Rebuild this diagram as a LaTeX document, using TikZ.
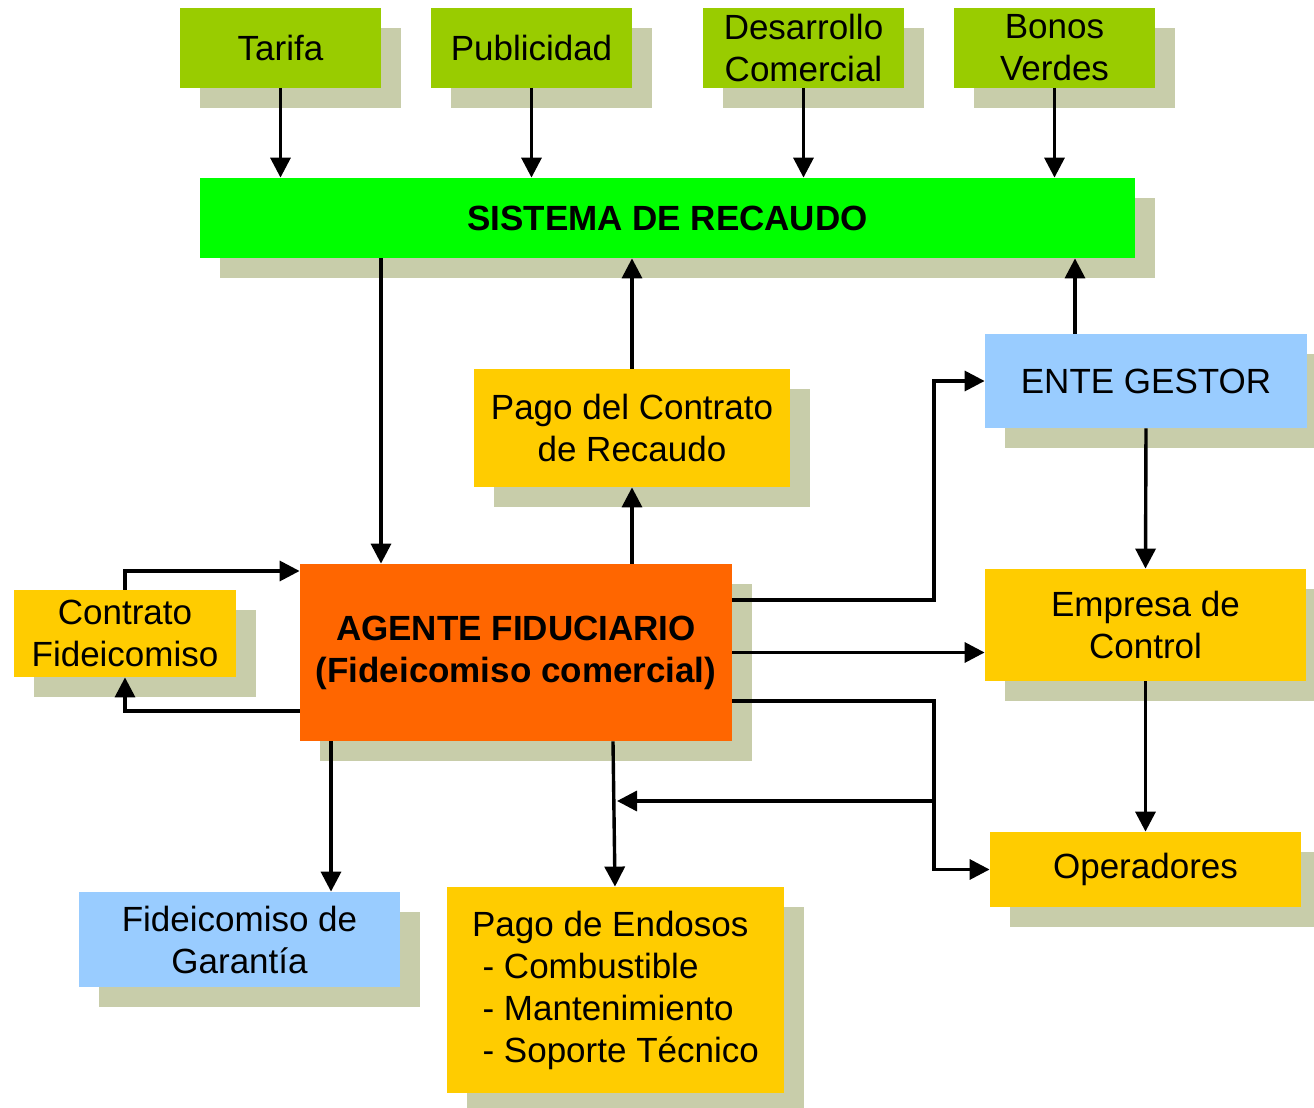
\documentclass[tikz,border=0pt]{standalone}
\usepackage{fontspec}
\setmainfont{Liberation Sans}
\usetikzlibrary{arrows.meta,shadows}
\definecolor{verdeclaro}{HTML}{99CC00}
\definecolor{verderecaudo}{HTML}{00FF00}
\definecolor{azulclaro}{HTML}{99CCFF}
\definecolor{amarillo}{HTML}{FFCC00}
\definecolor{naranja}{HTML}{FF6600}
\definecolor{sombra}{HTML}{C8CDAA}
\tikzset{
	caja/.style={fill=#1, align=center, inner sep=0pt, font=\fontsize{17.5}{21}\selectfont,
		drop shadow={shadow xshift=10pt, shadow yshift=-10pt, fill=sombra, opacity=1}},
	flecha/.style={line width=1.7pt, -{Triangle[length=10pt,width=10pt]}},
	linea/.style={line width=1.7pt}
}

\begin{document}
\begin{tikzpicture}[x=0.5pt, y=-0.5pt]
			%%%%% START %%%%%
			\useasboundingbox (0, 0) rectangle (1314, 1108);
			
			\node[caja=verdeclaro, minimum width=100.5pt, minimum height=40pt] (tarifa) at (280.5, 47.5) {Tarifa};
			\node[caja=verdeclaro, minimum width=100.5pt, minimum height=40pt] (publicidad) at (531.5, 47.5) {Publicidad};
			\node[caja=verdeclaro, minimum width=100.5pt, minimum height=40pt] (desarrollo) at (803.5, 47.5) {Desarrollo\\Comercial};
			\node[caja=verdeclaro, minimum width=100.5pt, minimum height=40pt] (bonos) at (1054.5, 47.5) {Bonos\\Verdes};
			
			\node[caja=verderecaudo, minimum width=467.5pt, minimum height=40pt] (sistema) at (667.5, 218) {\bfseries SISTEMA DE RECAUDO};
			
			\node[caja=amarillo, minimum width=158pt, minimum height=59pt] (pago) at (632, 428) {Pago del Contrato\\de Recaudo};
			\node[caja=azulclaro, minimum width=161pt, minimum height=47pt] (ente) at (1146, 381) {ENTE GESTOR};
			
			\node[caja=naranja, minimum width=216pt, minimum height=88.5pt] (agente) at (516, 652.5) {\bfseries AGENTE FIDUCIARIO\\\bfseries (Fideicomiso comercial)};
			\node[caja=amarillo, minimum width=111pt, minimum height=43.5pt] (contrato) at (125, 633.5) {Contrato\\Fideicomiso};
			\node[caja=amarillo, minimum width=160.5pt, minimum height=56pt] (empresa) at (1145.5, 625) {Empresa de\\Control};
			\node[caja=amarillo, minimum width=155.5pt, minimum height=37.5pt] (operadores) at (1145.5, 869.5) {Operadores};
			
			\node[caja=azulclaro, minimum width=160.5pt, minimum height=47.5pt] (garantia) at (239.5, 939.5) {Fideicomiso de\\Garantía};
			\node[caja=amarillo, minimum width=168.5pt, minimum height=103pt, align=left] (endosos) at (615.5, 990)
				{Pago de Endosos\\\hspace*{0.3em}- Combustible\\\hspace*{0.3em}- Mantenimiento\\\hspace*{0.3em}- Soporte Técnico};
			
			\coordinate (cruce) at (934, 801);
			\coordinate (retorno) at (617, 801);
			
			\draw[flecha] (tarifa) -- (tarifa |- sistema.north);
			\draw[flecha] (publicidad) -- (publicidad |- sistema.north);
			\draw[flecha] (desarrollo) -- (desarrollo |- sistema.north);
			\draw[flecha] (bonos) -- (bonos |- sistema.north);
			
			\draw[flecha] (sistema.south -| 381, 0) -- (agente.north -| 381, 0);
			\draw[flecha] (pago.north) -- (pago.north |- sistema.south);
			\draw[flecha] (agente.north -| pago.south) -- (pago.south);
			\draw[flecha] (ente.north -| 1075, 0) -- (sistema.south -| 1075, 0);
			\draw[flecha] (ente.south) -- (empresa.north);
			\draw[flecha] (empresa.south) -- (operadores.north);
			
			\draw[flecha] (agente.east |- 0, 600) -- (cruce |- 0, 600) |- (ente.west);
			\draw[flecha] (agente.east) -- (agente.east -| empresa.west);
			\draw[flecha] (agente.east |- 0, 701) -- (cruce |- 0, 701) |- (operadores.west);
			\draw[flecha] (cruce) -- (retorno);
			
			\draw[flecha] (agente.south -| 613, 0) -- (endosos.north -| 615, 0);
			\draw[flecha] (agente.south -| 331, 0) -- (garantia.north -| 331, 0);
			\draw[flecha] (contrato.north) -- (contrato.north |- 0, 571) -- (agente.west |- 0, 571);
			\draw[flecha] (agente.west |- 0, 711) -| (contrato.south);
			%%%%% END %%%%%
\end{tikzpicture}
\end{document}
